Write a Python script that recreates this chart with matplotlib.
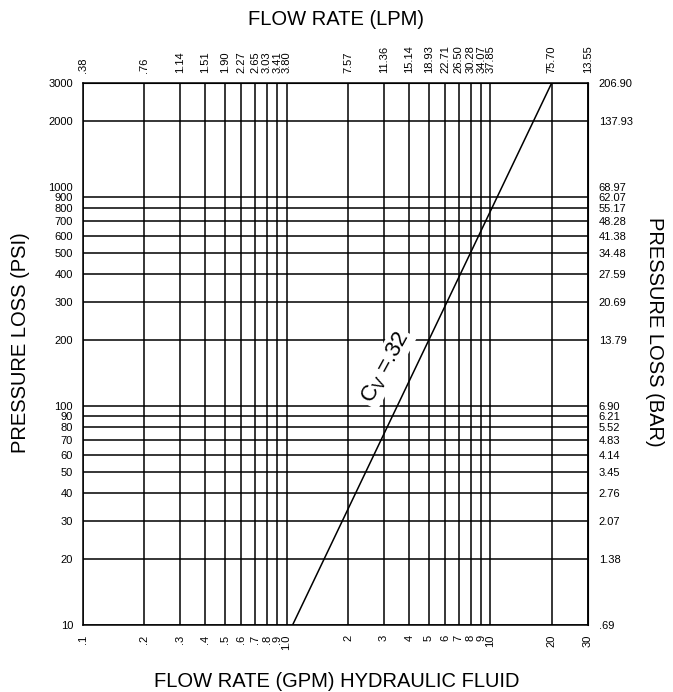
import numpy as np
import matplotlib
matplotlib.use('Agg')
import matplotlib.pyplot as plt

plt.rcParams['font.family'] = ['Liberation Sans', 'DejaVu Sans']

# flow rate, GPM (bottom) and matching LPM labels (top)
gpm = [0.1, 0.2, 0.3, 0.4, 0.5, 0.6, 0.7, 0.8, 0.9, 1.0,
       2, 3, 4, 5, 6, 7, 8, 9, 10, 20, 30]
gpm_labels = ['.1', '.2', '.3', '.4', '.5', '.6', '.7', '.8', '.9', '1.0',
              '2', '3', '4', '5', '6', '7', '8', '9', '10', '20', '30']
lpm_labels = ['.38', '.76', '1.14', '1.51', '1.90', '2.27', '2.65', '3.03', '3.41', '3.80',
              '7.57', '11.36', '15.14', '18.93', '22.71', '26.50', '30.28', '34.07', '37.85',
              '75.70', '13.55']

# pressure loss, PSI (left) and BAR (right)
psi = [10, 20, 30, 40, 50, 60, 70, 80, 90, 100,
       200, 300, 400, 500, 600, 700, 800, 900, 1000, 2000, 3000]
bar_labels = ['.69', '1.38', '2.07', '2.76', '3.45', '4.14', '4.83', '5.52', '6.21', '6.90',
              '13.79', '20.69', '27.59', '34.48', '41.38', '48.28', '55.17', '62.07', '68.97',
              '137.93', '206.90']

# Cv = .32 curve end points
cv_flow = [1.07, 20]
cv_psi = [10, 3000]

fig = plt.figure(figsize=(6.73, 6.92), dpi=100)
ax = fig.add_axes([0.1229, 0.0968, 0.7504, 0.7837])
ax.set_xscale('log')
ax.set_yscale('log')
ax.set_xlim(0.1, 30)
ax.set_ylim(10, 3000)

lw = 1.1
for q in gpm:
    ax.axvline(q, color='black', lw=lw)
for p in psi:
    if p == 1000:  # no grid line drawn at 1000 in the original
        continue
    ax.axhline(p, color='black', lw=lw)

ax.plot(cv_flow, cv_psi, color='black', lw=lw)

for s in ax.spines.values():
    s.set_linewidth(lw)

ax.minorticks_off()
ax.set_xticks(gpm)
ax.set_xticklabels(gpm_labels, rotation=90)
ax.set_yticks(psi)
ax.set_yticklabels([str(p) for p in psi])
ax.tick_params(length=0, pad=7, labelsize=8)

top = ax.secondary_xaxis('top')
top.set_xscale('log')
top.minorticks_off()
top.set_xticks(gpm)
top.set_xticklabels(lpm_labels, rotation=90)
top.tick_params(length=0, pad=7, labelsize=8)

right = ax.secondary_yaxis('right')
right.set_yscale('log')
right.minorticks_off()
right.set_yticks(psi)
right.set_yticklabels(bar_labels)
right.tick_params(length=0, pad=8, labelsize=8)

# label along the Cv line
p1 = ax.transData.transform((cv_flow[0], cv_psi[0]))
p2 = ax.transData.transform((cv_flow[1], cv_psi[1]))
ang = np.degrees(np.arctan2(p2[1] - p1[1], p2[0] - p1[0]))
ax.text(3.05, 150, r'C$_\mathregular{V}$ =.32', rotation=ang - 3, fontsize=16,
        ha='center', va='center', rotation_mode='anchor',
        bbox=dict(boxstyle='square,pad=0.1', fc='white', ec='none'))

fig.text(0.5, 0.972, 'FLOW RATE (LPM)', ha='center', va='center', fontsize=14.5)
fig.text(0.5, 0.015, 'FLOW RATE (GPM) HYDRAULIC FLUID', ha='center', va='center', fontsize=14.5)
fig.text(0.03, 0.505, 'PRESSURE LOSS (PSI)', rotation=90, ha='center', va='center', fontsize=14.5)
fig.text(0.972, 0.52, 'PRESSURE LOSS (BAR)', rotation=-90, ha='center', va='center', fontsize=14.5)

fig.savefig('out.png', dpi=100)
